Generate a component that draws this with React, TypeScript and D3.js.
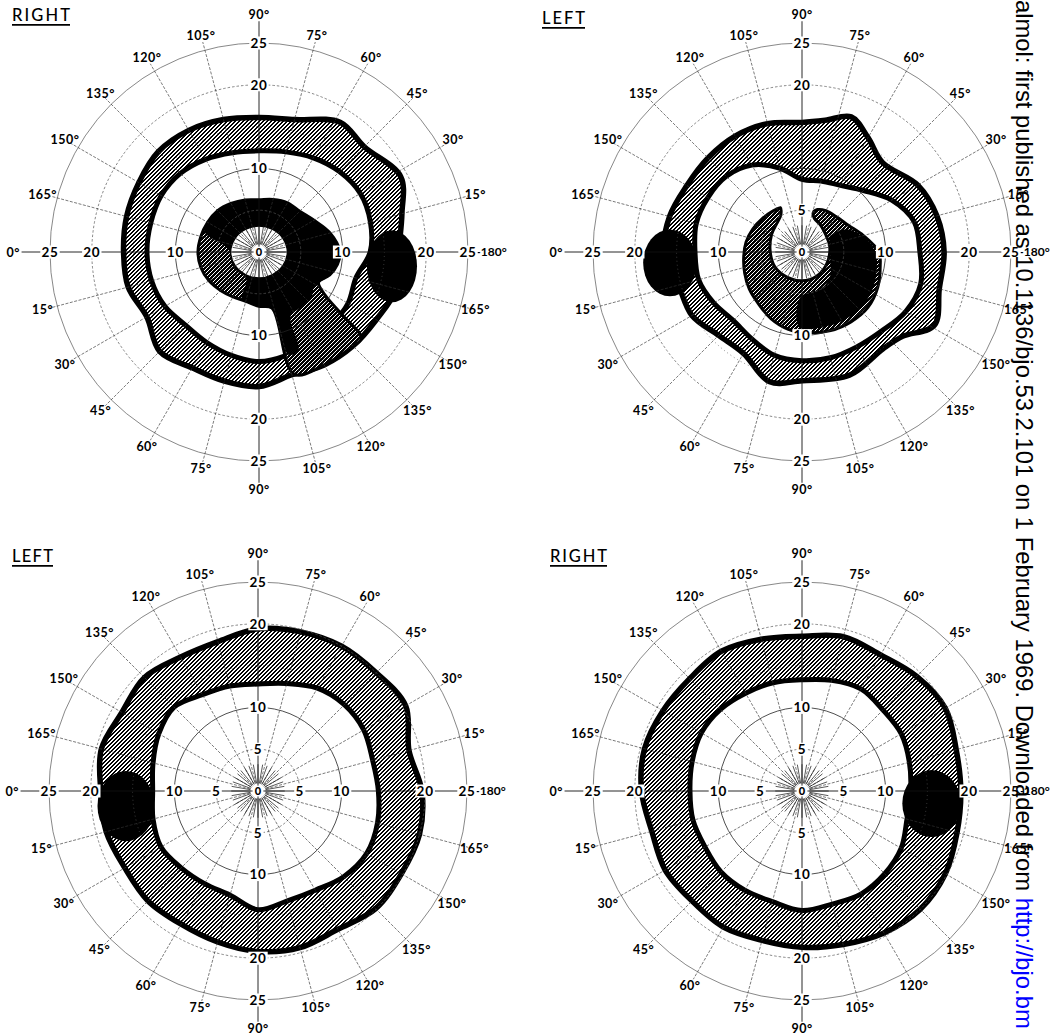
import * as d3 from 'd3'

type Pt = [number, number]

// meridians of the perimeter chart, angle counter-clockwise from the right
const meridians = [0, 15, 30, 45, 60, 75, 90, 105, 120, 135, 150, 165, 180, 195, 210, 225, 240, 255, 270, 285, 300, 315, 330, 345]
const meridianNames = ['180°', '15°', '30°', '45°', '60°', '75°', '90°', '105°', '120°', '135°', '150°', '165°', '0°', '15°', '30°', '45°', '60°', '75°', '90°', '105°', '120°', '135°', '150°', '165°']
const rings = [5, 10, 15, 20, 25]
const ringNames = ['5', '10', '20', '25']

// top left: RIGHT eye  [meridian, degrees from fixation]
const tlOuter: Pt[] = [[0, 16.7], [15, 17.7], [28, 19.2], [45, 17.8], [58, 18.3], [75, 16.4], [90, 16.1], [105, 16.4], [120, 16.8], [135, 17.0], [150, 16.6], [165, 16.4], [180, 16.2], [195, 16.2], [210, 15.5], [225, 16.8], [240, 16.0], [255, 16.0], [270, 16.1], [285, 15.2], [300, 15.6], [315, 15.9], [330, 16.2], [345, 17.0]]
const tlInner: Pt[] = [[0, 13.3], [15, 13.8], [30, 14.0], [45, 13.6], [60, 13.0], [75, 12.4], [90, 12.1], [105, 12.3], [120, 12.8], [135, 13.3], [150, 13.5], [165, 13.4], [180, 13.4], [195, 13.3], [210, 13.0], [225, 12.4], [240, 12.5], [255, 12.8], [270, 13.1], [285, 12.8], [300, 12.5], [315, 12.3], [330, 12.3], [345, 12.0]]
const tlScotoma: Pt[] = [[0, 9.7], [15, 8.8], [30, 7.6], [45, 6.9], [60, 6.8], [75, 6.5], [90, 6.25], [105, 6.45], [120, 6.7], [135, 7.0], [150, 7.1], [165, 7.2], [180, 7.3], [195, 7.2], [210, 6.9], [225, 6.5], [240, 6.2], [255, 6.1], [270, 6.5], [283, 6.9], [286, 15.2], [300, 15.6], [315, 15.9], [320, 16.0], [323, 12.4], [327, 9.4], [333, 8.0], [342, 8.9], [351, 9.5]]
const tlCore: Pt[] = [[250, 6.0], [265, 6.3], [280, 6.7], [284, 7.0], [286, 12.8], [292, 12.6], [296, 8.6], [305, 8.3], [318, 8.4], [328, 7.8], [340, 8.7], [350, 9.4], [360, 9.6], [375, 8.7], [390, 7.5], [405, 6.8], [420, 6.7], [435, 6.4], [450, 6.2], [465, 6.4], [480, 6.6], [495, 6.9], [510, 7.0], [520, 6.9], [535, 3.7], [570, 3.6], [605, 3.6]]
const tlHole: Pt[] = [[0, 3.4], [30, 3.3], [60, 3.15], [90, 3.1], [120, 3.15], [150, 3.3], [180, 3.4], [210, 3.3], [240, 3.15], [270, 3.1], [300, 3.15], [330, 3.3]]
const tlBlind = [15.9, -1.7, 3.0, 4.3]

// top right: LEFT eye
const trOuter: Pt[] = [[0, 17.0], [15, 16.7], [30, 16.0], [48, 14.4], [60, 15.8], [70, 17.2], [80, 16.0], [90, 15.5], [105, 15.9], [120, 16.0], [135, 15.9], [150, 15.9], [165, 16.4], [180, 16.5], [195, 15.3], [210, 15.2], [225, 14.1], [240, 14.0], [256, 16.0], [270, 15.4], [291, 15.8], [310, 15.1], [320, 15.7], [331, 18.1], [345, 17.0]]
const trInner: Pt[] = [[0, 14.1], [15, 13.9], [30, 12.4], [45, 10.4], [60, 9.2], [75, 8.8], [90, 8.7], [105, 10.4], [120, 12.0], [135, 12.8], [150, 13.0], [165, 13.1], [180, 12.8], [195, 12.8], [210, 12.2], [225, 11.6], [240, 12.0], [255, 12.8], [270, 13.0], [285, 13.1], [300, 13.1], [315, 13.4], [330, 14.3], [345, 14.7]]
const trScotoma: Pt[] = [[116, 5.9], [125, 6.0], [140, 6.2], [155, 6.5], [170, 6.8], [185, 7.0], [200, 7.3], [215, 7.7], [230, 8.1], [245, 8.8], [260, 9.4], [275, 9.7], [290, 10.0], [305, 10.2], [320, 10.3], [335, 10.0], [350, 9.5], [360, 9.2], [375, 7.6], [390, 6.4], [405, 5.9], [420, 5.7], [430, 5.4], [434, 4.9], [430, 4.3], [415, 3.9], [395, 3.5], [375, 3.4], [355, 3.3], [330, 3.3], [300, 3.4], [270, 3.45], [240, 3.5], [210, 3.7], [180, 3.8], [150, 4.2], [130, 4.6], [121, 5.0], [117, 5.5]]
const trCore: Pt[] = [[268, 9.0], [290, 9.4], [305, 9.6], [320, 9.7], [335, 9.5], [350, 9.1], [360, 8.8], [375, 7.4], [387, 6.0], [390, 4.0], [375, 3.5], [355, 3.4], [340, 3.6], [320, 4.4], [300, 4.9], [268, 5.4]]
const trBlind = [-15.8, -1.3, 3.2, 4.0]

// bottom left: LEFT eye
const blOuter: Pt[] = [[0, 19.6], [15, 18.7], [30, 20.4], [45, 20.0], [60, 20.0], [75, 19.7], [90, 19.4], [105, 18.5], [120, 18.5], [135, 19.2], [150, 18.8], [165, 19.4], [180, 18.8], [195, 18.8], [210, 18.4], [225, 18.6], [240, 18.4], [255, 18.7], [270, 19.2], [285, 19.4], [300, 19.1], [315, 19.9], [330, 19.8], [345, 20.0]]
const blInner: Pt[] = [[0, 14.4], [15, 14.2], [30, 14.6], [45, 14.6], [60, 14.2], [75, 13.3], [90, 12.8], [105, 13.0], [120, 13.3], [135, 14.2], [150, 13.7], [165, 13.0], [180, 12.6], [195, 13.0], [210, 13.4], [225, 13.0], [240, 12.8], [255, 12.9], [270, 14.2], [285, 13.6], [300, 13.7], [315, 14.5], [330, 15.0], [345, 14.8]]
const blBlind = [-15.8, -1.8, 3.4, 4.2]

// bottom right: RIGHT eye
const brOuter: Pt[] = [[0, 19.0], [15, 19.1], [30, 19.8], [45, 19.4], [60, 18.8], [75, 19.1], [90, 18.5], [105, 18.8], [120, 19.3], [135, 19.0], [150, 19.2], [165, 19.5], [180, 19.2], [195, 18.6], [210, 18.9], [225, 18.6], [240, 18.8], [255, 18.5], [270, 18.7], [285, 19.0], [300, 19.6], [315, 20.0], [330, 19.8], [345, 19.2]]
const brInner: Pt[] = [[0, 13.0], [15, 13.3], [30, 13.7], [45, 13.7], [60, 14.1], [75, 13.7], [90, 13.3], [105, 13.4], [120, 13.5], [135, 13.8], [150, 13.9], [165, 13.6], [180, 13.4], [195, 13.5], [210, 13.4], [225, 13.7], [240, 13.7], [255, 13.7], [270, 14.3], [285, 14.0], [300, 14.2], [315, 14.0], [330, 13.7], [345, 13.0]]
const brBlind = [15.5, -1.5, 3.5, 4.0]

interface Panel {
  title: string
  cx: number
  cy: number
  tx: number
  ty: number
  tw: number
  outer: Pt[]
  inner: Pt[]
  scotoma?: Pt[]
  core?: Pt[]
  hole?: Pt[]
  blind: number[]
}

const panels: Panel[] = [
  { title: 'RIGHT', cx: 259, cy: 252, tx: 12, ty: 21, tw: 58, outer: tlOuter, inner: tlInner, scotoma: tlScotoma, core: tlCore, hole: tlHole, blind: tlBlind },
  { title: 'LEFT', cx: 802, cy: 252, tx: 542, ty: 24, tw: 43, outer: trOuter, inner: trInner, scotoma: trScotoma, core: trCore, blind: trBlind },
  { title: 'LEFT', cx: 258, cy: 791, tx: 12, ty: 562, tw: 41, outer: blOuter, inner: blInner, blind: blBlind },
  { title: 'RIGHT', cx: 802, cy: 791, tx: 550, ty: 562, tw: 57, outer: brOuter, inner: brInner, blind: brBlind },
]

const R = d3.scaleLinear().domain([0, 25]).range([0, 209])
const rad = (deg: number) => (deg * Math.PI) / 180
const xy = (a: number, r: number): Pt => [R(r) * Math.cos(rad(a)), -R(r) * Math.sin(rad(a))]

const smooth = d3
  .lineRadial<Pt>()
  .angle((d) => rad(90 - d[0]))
  .radius((d) => R(d[1]))
  .curve(d3.curveCatmullRomClosed.alpha(0.5))

const labelFont = "Lato, 'DejaVu Sans', sans-serif"

// pixel tiles for the printed hatching ("/" stripes, kept crisp)
function tile(period: number, dark: number) {
  const cells: Pt[] = []
  for (let y = 0; y < period; y++)
    for (let x = 0; x < period; x++) if ((x + y) % period < dark) cells.push([x, y])
  return cells
}

function covered(p: Panel, a: number, r: number) {
  const pt = xy(a, r)
  const poly = (pts: Pt[]) => pts.map((d) => xy(d[0], d[1]))
  if (d3.polygonContains(poly(p.outer), pt) && !d3.polygonContains(poly(p.inner), pt)) return true
  if (p.scotoma && d3.polygonContains(poly(p.scotoma), pt)) return true
  const [bx, by, brx, bry] = p.blind
  const ex = (pt[0] - R(bx)) / R(brx)
  const ey = (pt[1] + R(by)) / R(bry)
  return ex * ex + ey * ey < 1
}

function Field({ p }: { p: Panel }) {
  const [bx, by, brx, bry] = p.blind
  const tickLabels: { a: number; v: number; name: string }[] = []
  ;[0, 90, 180, 270].forEach((a) =>
    ringNames.forEach((name) => {
      const v = +name
      if (!covered(p, a, v)) tickLabels.push({ a, v, name })
    }),
  )

  return (
    <g>
      <g transform={`translate(${p.cx},${p.cy})`}>
        {/* isopter band */}
        <path d={smooth(p.outer) ?? ''} fill="url(#hatch)" stroke="#000" strokeWidth={5.5} strokeLinejoin="round" />
        <path d={smooth(p.inner) ?? ''} fill="#fff" stroke="#000" strokeWidth={5} strokeLinejoin="round" />
        {p.scotoma && <path d={smooth(p.scotoma) ?? ''} fill="url(#dense)" stroke="#000" strokeWidth={3} strokeLinejoin="round" />}
        {p.core && <path d={smooth(p.core) ?? ''} fill="#000" />}
        {p.hole && <path d={smooth(p.hole) ?? ''} fill="#fff" stroke="#000" strokeWidth={1.5} />}
        <ellipse cx={R(bx)} cy={-R(by)} rx={R(brx)} ry={R(bry)} fill="#000" />

        {/* grid */}
        {rings.map((v) => (
          <circle
            key={v}
            r={R(v)}
            fill="none"
            stroke={v === 10 ? '#222' : '#555'}
            strokeWidth={v === 10 ? 0.8 : 0.7}
            strokeDasharray={v === 10 || v === 25 ? undefined : v === 15 ? '1 3' : '2.5 2'}
          />
        ))}
        {meridians
          .filter((a) => a % 90 !== 0)
          .map((a) => {
            const [x1, y1] = xy(a, 1)
            const [x2, y2] = xy(a, 26)
            return <line key={a} x1={x1} y1={y1} x2={x2} y2={y2} stroke="#333" strokeWidth={0.65} strokeDasharray="3 1.5" />
          })}
        {d3.range(0, 360, 10).map((a) => {
          const [x1, y1] = xy(a, 0.9)
          const [x2, y2] = xy(a, 3.2)
          return <line key={`b${a}`} x1={x1} y1={y1} x2={x2} y2={y2} stroke="#111" strokeWidth={0.7} />
        })}
        <line x1={R(-28.4)} y1={0} x2={R(26)} y2={0} stroke="#111" strokeWidth={0.9} />
        <line x1={0} y1={-R(27.6)} x2={0} y2={R(27.6)} stroke="#111" strokeWidth={0.9} />

        {/* meridian names */}
        {meridians.map((a, i) => {
          if (a === 0) {
            const [x, y] = xy(0, 26)
            return (
              <text key={a} x={x} y={y} dy="0.36em" fontSize={12} fontWeight={700} fontFamily={labelFont} textAnchor="start">
                {'-' + meridianNames[i]}
              </text>
            )
          }
          const r = a === 180 ? 29.4 : a === 90 || a === 270 ? 28.4 : 26.8
          const [x, y] = xy(a, r)
          return (
            <text key={a} x={x} y={y} dy="0.36em" fontSize={12.5} fontWeight={700} letterSpacing={0.5} fontFamily={labelFont} textAnchor="middle">
              {meridianNames[i]}
            </text>
          )
        })}

        {/* ring values on the axes */}
        {tickLabels.map(({ a, v, name }) => {
          const [x, y] = xy(a, v)
          const w = name.length * 8.2 + 3
          return (
            <g key={`${a}-${name}`} transform={`translate(${x},${y})`}>
              <rect x={-w / 2} y={-6.5} width={w} height={13} fill="#fff" />
              <text dy="0.36em" fontSize={13.5} fontWeight={700} letterSpacing={0.8} fontFamily={labelFont} textAnchor="middle">
                {name}
              </text>
            </g>
          )
        })}
        <circle r={5.5} fill="#fff" />
        <text dy="0.36em" fontSize={11} fontWeight={900} fontFamily={labelFont} textAnchor="middle">
          0
        </text>
      </g>

      <text
        x={p.tx}
        y={p.ty}
        fontSize={16.5}
        fontWeight={500}
        fontFamily={labelFont}
        textLength={p.tw}
        lengthAdjust="spacing"
      >
        {p.title}
      </text>
      <line x1={p.tx} y1={p.ty + 3.8} x2={p.tx + p.tw} y2={p.ty + 3.8} stroke="#000" strokeWidth={1.8} />
    </g>
  )
}

export default function App() {
  const hatchCells = tile(4, 2)
  const denseCells = tile(4, 3)
  return (
    <svg
      width={1053}
      height={1036}
      viewBox="0 0 1053 1036"
      style={{ position: 'absolute', left: 0, top: 0, display: 'block' }}
    >
      <defs>
        <pattern id="hatch" patternUnits="userSpaceOnUse" width={4} height={4}>
          <rect width={4} height={4} fill="#fff" shapeRendering="crispEdges" />
          {hatchCells.map(([x, y]) => (
            <rect key={`${x}-${y}`} x={x} y={y} width={1} height={1} fill="#000" shapeRendering="crispEdges" />
          ))}
        </pattern>
        <pattern id="dense" patternUnits="userSpaceOnUse" width={4} height={4}>
          <rect width={4} height={4} fill="#fff" shapeRendering="crispEdges" />
          {denseCells.map(([x, y]) => (
            <rect key={`${x}-${y}`} x={x} y={y} width={1} height={1} fill="#000" shapeRendering="crispEdges" />
          ))}
        </pattern>
      </defs>
      <rect width={1053} height={1036} fill="#fff" />
      {panels.map((p, i) => (
        <Field key={i} p={p} />
      ))}
      <text
        transform="translate(1016,0) rotate(90)"
        fontSize={23.8}
        fontFamily="'Liberation Sans', Arial, sans-serif"
        fill="#000"
      >
        almol: first published as 10.1136/bjo.53.2.101 on 1 February 1969. Downloaded from{' '}
        <tspan fill="#0000ff">http://bjo.bm</tspan>
      </text>
    </svg>
  )
}
